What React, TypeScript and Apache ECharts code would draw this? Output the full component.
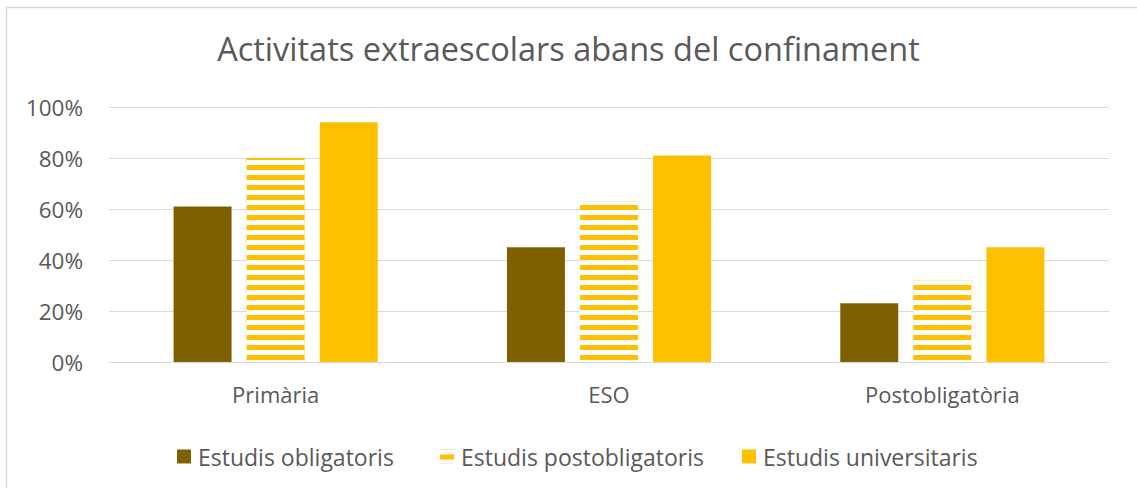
import React, { useEffect, useRef } from "react";
import * as echarts from "echarts";

const categories = ["Primària", "ESO", "Postobligatòria"];
const seriesNames = ["Estudis obligatoris", "Estudis postobligatoris", "Estudis universitaris"];
const obligatoris = [61, 45, 23];
const postobligatoris = [80, 63, 32];
const universitaris = [94, 81, 45];
const yTicks = [0, 20, 40, 60, 80, 100];

const FONT = "'Open Sans', sans-serif";
const TEXT = "#595959";
const legendLefts = [172, 435, 737];

export default function App() {
  const ref = useRef<HTMLDivElement>(null);
  useEffect(() => {
    document.body.style.margin = "0";
    const chart = echarts.init(ref.current!, undefined, { renderer: "svg" });
    chart.setOption({
      animation: false,
      backgroundColor: "#ffffff",
      textStyle: { fontFamily: FONT, color: TEXT },
      title: {
        text: "Activitats extraescolars abans del confinament",
        left: "center",
        top: 27,
        textStyle: { fontFamily: FONT, fontSize: 32.5, fontWeight: "normal", color: TEXT },
      },
      graphic: [
        {
          type: "rect",
          shape: { x: 6.5, y: 7.5, width: 1150, height: 500 },
          style: { fill: "none", stroke: "#d9d9d9", lineWidth: 1.5 },
          silent: true,
          z: -1,
        },
      ],
      legend: seriesNames.map((name, i) => ({
        left: legendLefts[i],
        top: 440,
        itemWidth: 14,
        itemHeight: 14,
        icon: "rect",
        textStyle: { fontFamily: FONT, fontSize: 23, color: TEXT, padding: [0, 0, 0, 2] },
        data: [name],
      })),
      grid: { left: 109, right: 28, top: 107, bottom: 126, containLabel: false },
      xAxis: {
        type: "category",
        data: categories,
        axisLine: { lineStyle: { color: "#d9d9d9", width: 1 } },
        axisTick: { show: false },
        axisLabel: { fontFamily: FONT, fontSize: 22, color: TEXT, margin: 21 },
      },
      yAxis: {
        type: "value",
        min: 0,
        max: 100,
        interval: 20,
        axisLine: { show: false },
        axisTick: { show: false },
        splitLine: { lineStyle: { color: "#d9d9d9", width: 1 } },
        axisLabel: {
          fontFamily: FONT,
          fontSize: 22.5,
          color: TEXT,
          margin: 26,
          formatter: (v: number) => (yTicks.includes(v) ? v + "%" : ""),
        },
      },
      series: [
        {
          name: seriesNames[0],
          type: "bar",
          data: obligatoris,
          barWidth: 58,
          barGap: "26%",
          itemStyle: { color: "#7F6000" },
        },
        {
          name: seriesNames[1],
          type: "bar",
          data: postobligatoris,
          barWidth: 58,
          barGap: "26%",
          itemStyle: {
            color: "#FFC000",
            decal: {
              symbol: "rect",
              symbolSize: 1,
              dashArrayX: [1, 0],
              dashArrayY: [4.3, 4.2],
              rotation: 0,
              color: "#ffffff",
            },
          },
        },
        {
          name: seriesNames[2],
          type: "bar",
          data: universitaris,
          barWidth: 58,
          barGap: "26%",
          itemStyle: { color: "#FFC000" },
        },
      ],
    });
    return () => chart.dispose();
  }, []);
  return <div ref={ref} style={{ width: 1137, height: 488 }} />;
}
